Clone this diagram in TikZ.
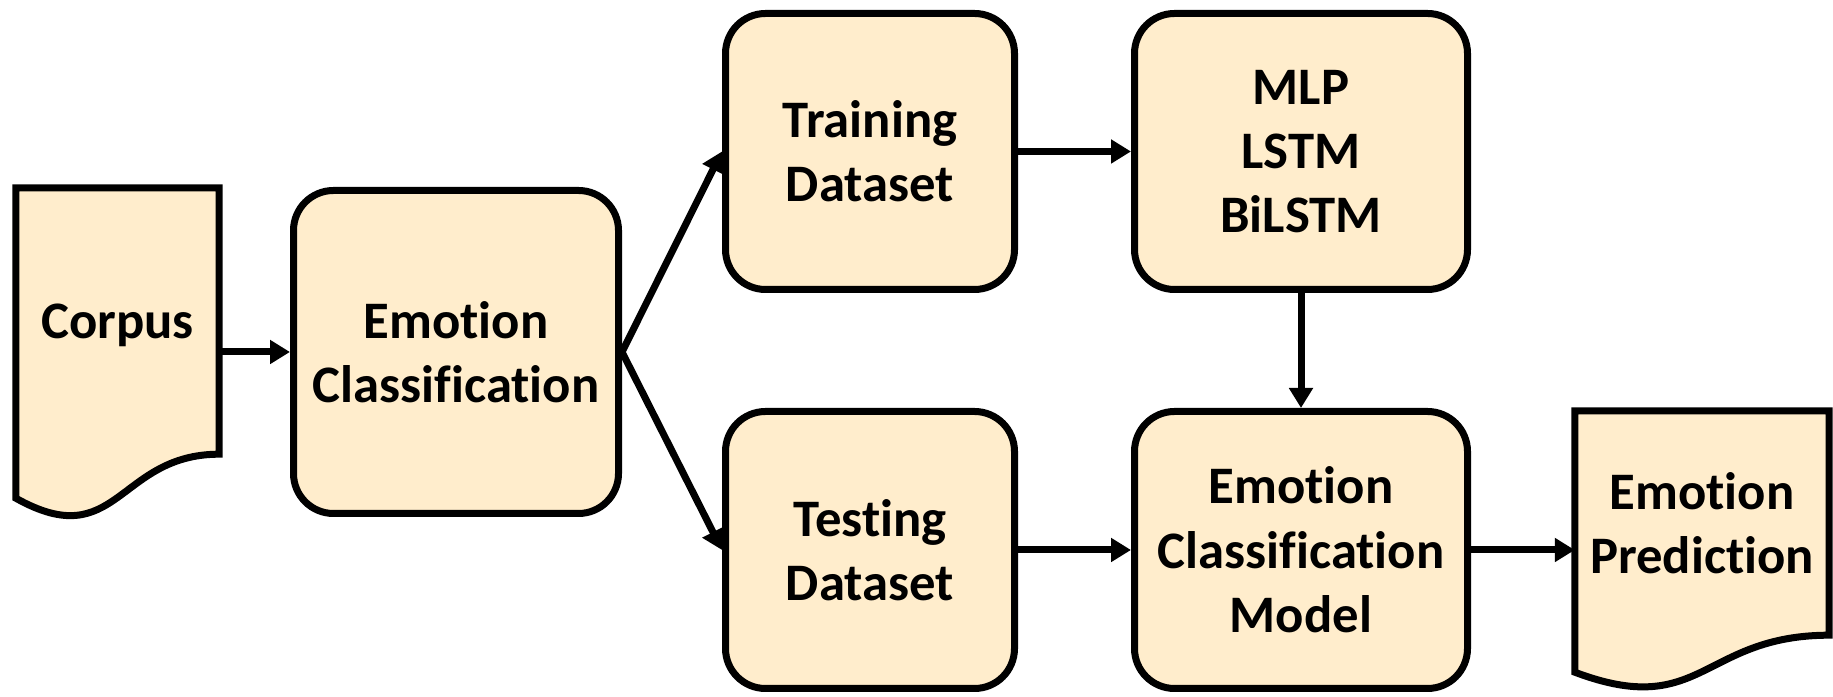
\documentclass[tikz,border=0pt]{standalone}
\usepackage{fontspec}
\setmainfont{Carlito}[Ligatures=NoCommon]
\usepackage{xcolor}
\definecolor{boxfill}{HTML}{FFEDCC}
\usetikzlibrary{arrows.meta}
\usetikzlibrary{calc}
\usetikzlibrary{backgrounds}

\tikzset{
    label font/.style={font=\fontsize{15}{18.3}\selectfont\bfseries, align=center},
    block/.style={rectangle, rounded corners=4mm, draw, line width=0.7mm, fill=boxfill, label font},
    doc/.style={rectangle, inner sep=0pt, label font},
    docline/.style={draw, line width=0.7mm, fill=boxfill, line join=miter},
    arrow/.style={line width=0.7mm, -{Triangle[length=2mm, width=2.3mm]}}
}

\begin{document}
\begin{tikzpicture}
    \useasboundingbox (0,0) rectangle (18.33,-6.97);

    \node[doc, minimum width=2.02cm, minimum height=2.65cm, text height=0.45cm, text depth=0.1cm] (corpus) at (1.175,-3.21) {Corpus};
    \node[block, minimum width=3.25cm, minimum height=3.23cm] (emo) at (4.56,-3.52) {Emotion\\Classification};
    \node[block, minimum width=2.89cm, minimum height=2.76cm] (train) at (8.70,-1.515) {Training\\Dataset};
    \node[block, minimum width=2.89cm, minimum height=2.77cm] (test) at (8.70,-5.50) {Testing\\Dataset};
    \node[block, minimum width=3.33cm, minimum height=2.76cm] (models) at (13.01,-1.515) {MLP\\LSTM\\BiLSTM};
    \node[block, minimum width=3.33cm, minimum height=2.77cm] (model) at (13.01,-5.50) {Emotion\\Classification\\Model};
    \node[doc, minimum width=2.53cm, minimum height=2.23cm] (pred) at (17.02,-5.23) {Emotion\\Prediction};

    \begin{scope}[on background layer]
        \draw[docline] (corpus.north west) -- (corpus.north east) -- (corpus.south east)
            .. controls (corpus.south) and ($(corpus.south)+(0,-1.01)$) .. ($(corpus.south west)+(0,-0.44)$) -- cycle;
        \draw[docline] (pred.north west) -- (pred.north east) -- (pred.south east)
            .. controls (pred.south) and ($(pred.south)+(0,-0.85)$) .. ($(pred.south west)+(0,-0.37)$) -- cycle;
    \end{scope}

    \draw[arrow] (emo.west -| corpus.east) -- (emo.west);
    \draw[arrow] (emo.east) -- (train.west);
    \draw[arrow] (emo.east) -- (test.west);
    \draw[arrow] (train.east) -- (models.west);
    \draw[arrow] (test.east) -- (model.west);
    \draw[arrow] (models.south) -- (model.north);
    \draw[arrow] (model.east) -- (model.east -| pred.west);
\end{tikzpicture}
\end{document}
